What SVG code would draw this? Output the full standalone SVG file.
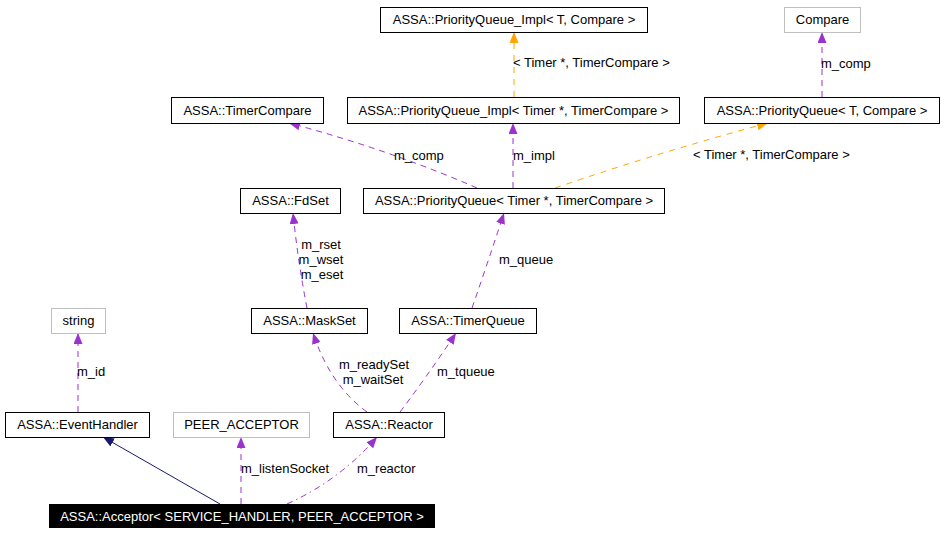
<svg xmlns="http://www.w3.org/2000/svg" width="944" height="533" viewBox="0 0 944 533">
<style>
text{font-family:"Liberation Sans",Arial,sans-serif;font-size:13px;fill:#000}
.n rect{fill:#fff;stroke:#000;stroke-width:1}
.g rect{fill:#fff;stroke:#bfbfbf;stroke-width:1}
.c text{text-anchor:middle}
.e{fill:none;stroke-width:1}
.p{stroke:#9a32cd;stroke-dasharray:6,5}
.o{stroke:#ffa500;stroke-dasharray:6,6}
.pd{stroke:#9a32cd;stroke-dasharray:6,4,1.5,4}
.nv{stroke:#191970}
.lbl{text-anchor:start}
.mid{text-anchor:middle}
</style>
<defs>
<marker id="ap" markerUnits="userSpaceOnUse" markerWidth="11" markerHeight="9" refX="11" refY="4.5" orient="auto"><path d="M0,0 L11,4.5 L0,9 z" fill="#9a32cd"/></marker>
<marker id="ao" markerUnits="userSpaceOnUse" markerWidth="11" markerHeight="9" refX="11" refY="4.5" orient="auto"><path d="M0,0 L11,4.5 L0,9 z" fill="#ffa500"/></marker>
<marker id="an" markerUnits="userSpaceOnUse" markerWidth="11" markerHeight="9" refX="11" refY="4.5" orient="auto"><path d="M0,0 L11,4.5 L0,9 z" fill="#191970"/></marker>
</defs>
<rect width="944" height="533" fill="#fff"/>
<g id="edges">
<path class="e o" d="M514,97 L514,32" marker-end="url(#ao)"/>
<text class="lbl" x="513" y="67">&lt; Timer *, TimerCompare &gt;</text>
<path class="e o" d="M555,188 Q660,152 768,123" marker-end="url(#ao)"/>
<text class="lbl" x="693" y="159">&lt; Timer *, TimerCompare &gt;</text>
<path class="e p" d="M822,97 L822,32" marker-end="url(#ap)"/>
<text class="lbl" x="821" y="68">m_comp</text>
<path class="e p" d="M477,188 Q390,150 289,123" marker-end="url(#ap)"/>
<text class="lbl" x="394" y="160">m_comp</text>
<path class="e p" d="M513,188 L513,123" marker-end="url(#ap)"/>
<text class="lbl" x="513" y="160">m_impl</text>
<path class="e p" d="M307,308 Q298,262 293,213" marker-end="url(#ap)"/>
<text class="mid" x="321" y="249">m_rset</text>
<text class="mid" x="321" y="264">m_wset</text>
<text class="mid" x="322" y="279">m_eset</text>
<path class="e p" d="M472,308 Q488,262 504,213" marker-end="url(#ap)"/>
<text class="lbl" x="499" y="264">m_queue</text>
<path class="e p" d="M367,412 Q330,385 313,333" marker-end="url(#ap)"/>
<text class="mid" x="374" y="369">m_readySet</text>
<text class="mid" x="373" y="384">m_waitSet</text>
<path class="e p" d="M400,412 Q428,375 456,333" marker-end="url(#ap)"/>
<text class="lbl" x="437" y="376">m_tqueue</text>
<path class="e p" d="M78,412 L78,333" marker-end="url(#ap)"/>
<text class="lbl" x="77" y="376">m_id</text>
<path class="e nv" d="M220,504 L103,437" marker-end="url(#an)"/>
<path class="e p" d="M241,504 L241,437" marker-end="url(#ap)"/>
<text class="lbl" x="241" y="473">m_listenSocket</text>
<path class="e pd" d="M287,504 Q340,480 377,437" marker-end="url(#ap)"/>
<text class="lbl" x="357" y="473">m_reactor</text>
</g>
<g id="n_pqimpl_t" class="n c"><rect x="380.5" y="7.5" width="267" height="25"/><text x="514" y="24">ASSA::PriorityQueue_Impl&lt; T, Compare &gt;</text></g>
<g id="n_compare" class="g c"><rect x="784.5" y="7.5" width="76" height="25"/><text x="822.5" y="24">Compare</text></g>
<g id="n_timercompare" class="n c"><rect x="171.5" y="97.5" width="152" height="26"/><text x="247.5" y="115">ASSA::TimerCompare</text></g>
<g id="n_pqimpl_timer" class="n c"><rect x="347.5" y="97.5" width="332" height="26"/><text x="513.5" y="115">ASSA::PriorityQueue_Impl&lt; Timer *, TimerCompare &gt;</text></g>
<g id="n_pq_t" class="n c"><rect x="704.5" y="97.5" width="235" height="26"/><text x="822" y="115">ASSA::PriorityQueue&lt; T, Compare &gt;</text></g>
<g id="n_fdset" class="n c"><rect x="240.5" y="188.5" width="100" height="25"/><text x="290.5" y="205">ASSA::FdSet</text></g>
<g id="n_pq_timer" class="n c"><rect x="363.5" y="188.5" width="301" height="25"/><text x="514" y="205">ASSA::PriorityQueue&lt; Timer *, TimerCompare &gt;</text></g>
<g id="n_string" class="g c"><rect x="51.5" y="308.5" width="54" height="25"/><text x="78.5" y="325">string</text></g>
<g id="n_maskset" class="n c"><rect x="251.5" y="308.5" width="116" height="25"/><text x="309.5" y="325">ASSA::MaskSet</text></g>
<g id="n_timerqueue" class="n c"><rect x="399.5" y="308.5" width="137" height="25"/><text x="468" y="325">ASSA::TimerQueue</text></g>
<g id="n_eventhandler" class="n c"><rect x="5.5" y="412.5" width="144" height="25"/><text x="77.5" y="429">ASSA::EventHandler</text></g>
<g id="n_peer" class="g c"><rect x="173.5" y="412.5" width="136" height="25"/><text x="241.5" y="429">PEER_ACCEPTOR</text></g>
<g id="n_reactor" class="n c"><rect x="333.5" y="412.5" width="111" height="25"/><text x="389" y="429">ASSA::Reactor</text></g>
<g id="n_acceptor" class="c"><rect x="49" y="504" width="386" height="24" fill="#000"/><text x="242" y="521" style="fill:#fff">ASSA::Acceptor&lt; SERVICE_HANDLER, PEER_ACCEPTOR &gt;</text></g>
</svg>
